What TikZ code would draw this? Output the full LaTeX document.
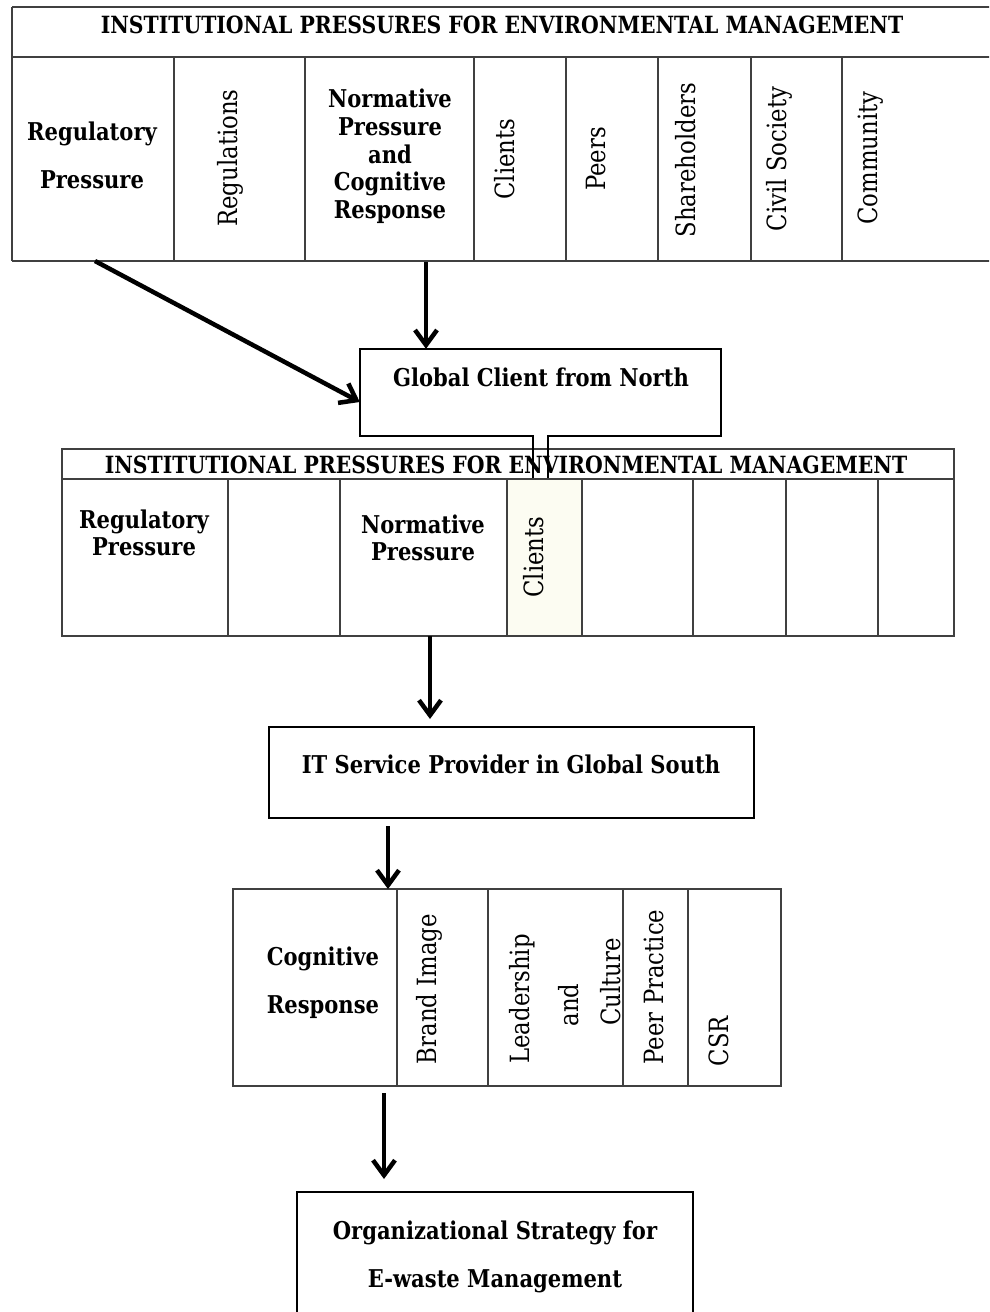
\documentclass[tikz,border=0pt]{standalone}
\usepackage{fontspec}
\setmainfont{DejaVu Serif}[FakeStretch=0.86]
\usetikzlibrary{arrows.meta}
\definecolor{cellcream}{RGB}{252,252,242}
\begin{document}
\begin{tikzpicture}[x=1pt,y=-1pt,
  tline/.style={draw=black!75,line width=1.2pt},
  bline/.style={draw=black,line width=2pt},
  arr/.style={draw=black,line width=4.5pt,-{Straight Barb[length=15pt,width=22pt]}},
  btxt/.style={font=\bfseries\fontsize{24.5}{29}\selectfont,inner sep=0pt,anchor=base},
  htxt/.style={font=\bfseries\fontsize{23.7}{29}\selectfont,inner sep=0pt,anchor=base},
  rtxt/.style={font=\fontsize{26.5}{31}\selectfont,inner sep=0pt,rotate=90,anchor=center}]
\useasboundingbox (0,0) rectangle (989,1312);
\clip (0,0) rectangle (989,1312);
\fill[white] (0,0) rectangle (989,1312);

% ---- first table: institutional pressures (all factors) ----
\draw[tline] (12,7) -- (995,7) (12,57) -- (995,57) (12,261) -- (995,261) (12,7) -- (12,261);
\foreach \x in {174,305,474,566,658,751,842} \draw[tline] (\x,57) -- (\x,261);
\node[htxt] (hA) at (502,33) {INSTITUTIONAL PRESSURES FOR ENVIRONMENTAL MANAGEMENT};
\node[btxt] (regA1) at (92,140) {Regulatory};
\node[btxt] (regA2) at (92,188) {Pressure};
\node[rtxt] (regsA) at (230,158) {Regulations};
\node[btxt] (norA1) at (390,107) {Normative};
\node[btxt] (norA2) at (390,135) {Pressure};
\node[btxt] (norA3) at (390,163) {and};
\node[btxt] (norA4) at (390,190) {Cognitive};
\node[btxt] (norA5) at (390,218) {Response};
\node[rtxt] (cliA) at (505,159) {Clients};
\node[rtxt] (peeA) at (596,159) {Peers};
\node[rtxt] (shaA) at (686,160) {Shareholders};
\node[rtxt] (civA) at (779,159) {Civil Society};
\node[rtxt] (comA) at (871,158) {Community};
\coordinate (regOut) at (95,261);
\coordinate (norOut) at (426,262);

% ---- global client box with its tab into the second table ----
\node[inner sep=0pt,minimum width=361pt,minimum height=87pt] (glob) at (540.5,392.5) {};
\node[btxt] (globT) at (541,386) {Global Client from North};
\coordinate (tabL) at (533,478);
\coordinate (tabR) at (548,478);

% ---- second table: pressures acting on the client ----
\fill[cellcream] (507,479) rectangle (582,636);
\draw[tline] (62,449) rectangle (954,636) (62,479) -- (954,479);
\foreach \x in {228,340,507,582,693,786,878} \draw[tline] (\x,479) -- (\x,636);
\node[htxt] (hB) at (506,473) {INSTITUTIONAL PRESSURES FOR ENVIRONMENTAL MANAGEMENT};
\node[btxt] (regB1) at (144,528) {Regulatory};
\node[btxt] (regB2) at (144,555) {Pressure};
\node[btxt] (norB1) at (423,533) {Normative};
\node[btxt] (norB2) at (423,560) {Pressure};
\node[rtxt] (cliB) at (534,557) {Clients};
\coordinate (tabBout) at (430,636);

\draw[bline] (tabL) |- (glob.south west) |- (glob.north east) -- (glob.south east) -| (tabR);

% ---- IT service provider ----
\node[bline,inner sep=0pt,minimum width=485pt,minimum height=91pt] (itsp) at (511.5,772.5) {};
\node[btxt] (itspT) at (511,773) {IT Service Provider in Global South};

% ---- third table: cognitive response ----
\draw[tline] (233,889) rectangle (781,1086);
\foreach \x in {397,488,623,688} \draw[tline] (\x,889) -- (\x,1086);
\node[btxt] (cog1) at (323,965) {Cognitive};
\node[btxt] (cog2) at (323,1013) {Response};
\node[rtxt] (brand) at (429,989) {Brand Image};
\node[rtxt] (lead1) at (522,999) {Leadership};
\node[rtxt] (lead2) at (569,1005) {and};
\node[rtxt] (lead3) at (611,982) {Culture};
\node[rtxt] (peer) at (654,987) {Peer Practice};
\node[rtxt] (csr) at (719,1041) {CSR};
\coordinate (cogIn) at (388,889);
\coordinate (cogOut) at (384,1093);

% ---- organizational strategy ----
\node[bline,inner sep=0pt,minimum width=396pt,minimum height=150pt] (strat) at (495,1267) {};
\node[btxt] (strat1) at (495,1239) {Organizational Strategy for};
\node[btxt] (strat2) at (495,1287) {E-waste Management};

% ---- arrows ----
\draw[arr] (regOut) -- (glob.west |- 0,402);
\draw[arr] (norOut) -- (norOut |- glob.north);
\draw[arr,shorten >=7pt] (tabBout) -- (tabBout |- itsp.north);
\draw[arr] (itsp.south -| cogIn) ++(0,7) -- (cogIn);
\draw[arr,shorten >=12pt] (cogOut) -- (cogOut |- strat.north);
\end{tikzpicture}
\end{document}
